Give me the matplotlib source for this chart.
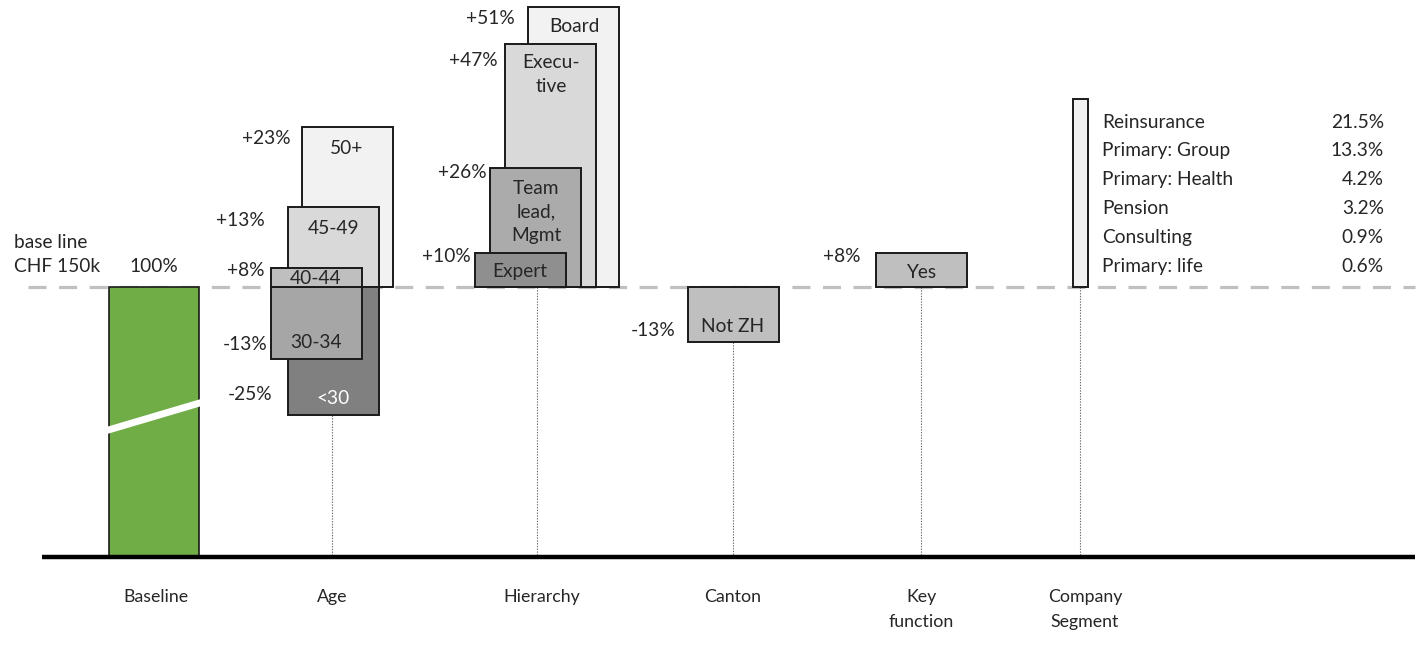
import matplotlib
matplotlib.use("Agg")
import numpy as np
from matplotlib import pyplot as plt

plt.rcParams['font.family'] = ['Lato', 'DejaVu Sans']
plt.rcParams['lines.scale_dashes'] = False

# drawn extents of each box, in units where the baseline bar = 100
age_labels = ["50+", "45-49", "<30", "30-34", "40-44"]
age_pct = ["+23%", "+13%", "-25%", "-13%", "+8%"]
age_vals = [59.3, 29.6, -47.4, -26.7, 7.0]

hier_labels = ["Board", "Execu-\ntive", "Team\nlead,\nMgmt", "Expert"]
hier_pct = ["+51%", "+47%", "+26%", "+10%"]
hier_vals = [103.7, 90.0, 44.0, 12.6]

canton_labels = ["Not ZH"]
canton_pct = ["-13%"]
canton_vals = [-20.4]

key_labels = ["Yes"]
key_pct = ["+8%"]
key_vals = [12.6]

segment_val = 69.6
segments = ["Reinsurance", "Primary: Group", "Primary: Health", "Pension",
            "Consulting", "Primary: life"]
segment_shares = ["21.5%", "13.3%", "4.2%", "3.2%", "0.9%", "0.6%"]

categories = ["Baseline", "Age", "Hierarchy", "Canton", "Key\nfunction",
              "Company\nSegment"]
baseline_val = 100

# layout (pixels)
W, H = 1423, 650
BASE_PX = 287
PX = 2.7


def yd(ypix):
    return (BASE_PX - ypix) / PX


TXT = "#262626"
FS = 13.8

fig = plt.figure(figsize=(W / 100, H / 100), dpi=100)
ax = fig.add_axes([0, 0, 1, 1])
ax.set_xlim(0, W)
ax.set_ylim(yd(H), yd(0))
ax.axis("off")

# dashed base line
ax.plot([28, 1415], [0, 0], color="#c0c0c0", lw=2.3, dashes=(13, 9), zorder=1)

# baseline bar
ax.bar(109, -baseline_val, 90, bottom=0, align="edge", color="#70ad47",
       edgecolor="#1a1a1a", lw=1.2, zorder=3)
ax.plot([105, 203], [yd(431), yd(402)], color="white", lw=5, zorder=4,
        solid_capstyle="butt")
ax.text(154, yd(267), "100%", ha="center", va="center", fontsize=FS, color=TXT)
ax.text(14, yd(243), "base line", ha="left", va="center", fontsize=FS, color=TXT)
ax.text(14, yd(267), "CHF 150k", ha="left", va="center", fontsize=FS, color=TXT)


def group(vals, labels, pcts, lefts, colors, lab_xy, pct_xy, txt_colors=None):
    for i, v in enumerate(vals):
        ax.bar(lefts[i], v, 91, bottom=0, align="edge", color=colors[i],
               edgecolor="#1a1a1a", lw=1.4, zorder=3 + i)
        tc = TXT if txt_colors is None else txt_colors[i]
        ax.text(lab_xy[i][0], yd(lab_xy[i][1]), labels[i], ha="center",
                va="center", fontsize=FS, color=tc, zorder=10 + i,
                linespacing=1.5)
        ax.text(pct_xy[i][0], yd(pct_xy[i][1]), pcts[i], ha="right",
                va="center", fontsize=FS, color=TXT, zorder=10 + i)


# Age
group(age_vals, age_labels, age_pct,
      [302, 288, 288, 271, 271],
      ["#f2f2f2", "#d9d9d9", "#808080", "#a6a6a6", "#bfbfbf"],
      [(347, 148), (334, 228), (333, 398), (316, 343), (316, 279)],
      [(291, 139), (265, 220), (272, 395), (268, 344), (264, 271)],
      [TXT, TXT, "white", TXT, TXT])

# Hierarchy
group(hier_vals, hier_labels, hier_pct,
      [528, 505, 490, 475],
      ["#f2f2f2", "#d9d9d9", "#ababab", "#8f8f8f"],
      [(574, 27), (551, 75), (536, 212), (520, 272)],
      [(515, 19), (498, 60), (487, 172), (471, 257)])

# Canton
group(canton_vals, canton_labels, canton_pct, [688], ["#bfbfbf"],
      [(733, 326)], [(676, 331)])

# Key function
group(key_vals, key_labels, key_pct, [876], ["#bfbfbf"],
      [(921, 272)], [(860, 257)])

# Company segment
ax.bar(1073, segment_val, 15, bottom=0, align="edge", color="#f2f2f2",
       edgecolor="#1a1a1a", lw=1.4, zorder=3)
for i, (s, p) in enumerate(zip(segments, segment_shares)):
    y = yd(122 + i * 28.9)
    ax.text(1102, y, s, ha="left", va="center", fontsize=FS, color=TXT)
    ax.text(1384, y, p, ha="right", va="center", fontsize=FS, color=TXT)

# dotted connectors to the axis
axis_y = -baseline_val
for x, top in [(332, min(age_vals)), (537, 0), (733, min(canton_vals)),
               (921, 0), (1080, 0)]:
    ax.plot([x, x], [top, axis_y], color="#707070", lw=0.8, ls=(0, (1, 1)),
            zorder=2)

# axis line
ax.plot([42, 1415], [axis_y, axis_y], color="black", lw=3.2, zorder=5,
        solid_capstyle="butt")

# category labels
for x, c in zip([156, 332, 542, 733, 921, 1085], categories):
    ax.text(x, yd(589), c, ha="center", va="top", fontsize=12.8, color=TXT,
            linespacing=1.7)

fig.savefig("out.png", dpi=100)
